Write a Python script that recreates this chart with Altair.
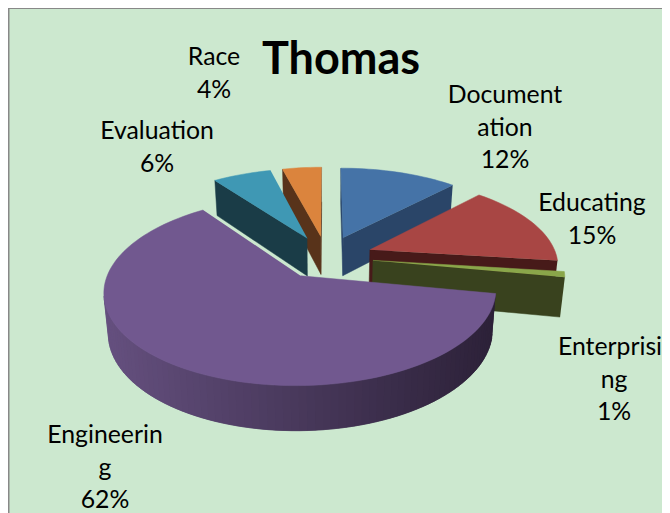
import math
import altair as alt
import pandas as pd

# ---- chart values ----
categories = ["Documentation", "Educating", "Enterprising", "Engineering", "Evaluation", "Race"]
values = [12, 15, 1, 62, 6, 4]
title_text = "Thomas"
label_lines = [
    ["Document", "ation", "12%"],
    ["Educating", "15%"],
    ["Enterprisi", "ng", "1%"],
    ["Engineerin", "g", "62%"],
    ["Evaluation", "6%"],
    ["Race", "4%"],
]

# ---- styling ----
top_colors = ["#4573a7", "#a84644", "#8aa64a", "#71588f", "#3f98b4", "#db843d"]
side_colors = ["#2a4568", "#471a19", "#39421e", "#4a3760", "#1a3c47", "#58331a"]
paint_order = [5, 4, 0, 1, 2, 3]
label_x = [505, 592, 614, 105, 157, 214]
label_y = [96, 204, 348, 436, 132, 58]
LINE = 32.7
FONT = "Lato"
RIGHT_EDGE = 662

# ---- 3-D pie projection ----
CX, CY, R, Q, K, EXPLODE = 326.5, 257.0, 187.0, 0.46, 0.157, 0.25


def project(X, Y, down=False):
    s = 1 / (1 + K * Y)
    x = CX + R * X * s
    y = CY - Q * R * Y * s
    if down:
        x = CX + (x - CX) * 0.98
        y += 12.5 + 26.4 * s
    return x, y


def area(pts):
    return sum(pts[i][0] * pts[(i + 1) % len(pts)][1] - pts[(i + 1) % len(pts)][0] * pts[i][1]
               for i in range(len(pts))) / 2


def lerp_hex(a, b, t):
    ca = [int(a[i:i + 2], 16) for i in (1, 3, 5)]
    cb = [int(b[i:i + 2], 16) for i in (1, 3, 5)]
    return "#" + "".join(f"{round(u + (v - u) * t):02x}" for u, v in zip(ca, cb))


rows = []
poly_id = [0]


def add(pts, color):
    pid = poly_id[0]
    poly_id[0] += 1
    for i, (x, y) in enumerate(pts):
        rows.append({"poly": f"p{pid:04d}", "i": i, "x": x, "y": y, "color": color})


total = sum(values)
starts, acc = [], 0
for v in values:
    starts.append(acc)
    acc += v

for idx in paint_order:
    a0 = starts[idx] / total * 2 * math.pi
    a1 = (starts[idx] + values[idx]) / total * 2 * math.pi
    mid = (a0 + a1) / 2
    ox, oy = EXPLODE * math.sin(mid), EXPLODE * math.cos(mid)
    n = max(2, int(math.degrees(a1 - a0) / 2))
    angs = [a0 + (a1 - a0) * j / n for j in range(n + 1)]
    rim = [(ox + math.sin(a), oy + math.cos(a)) for a in angs]
    apex = (ox, oy)
    side = side_colors[idx]
    # radial faces
    for p, q_ in ((apex, rim[0]), (rim[-1], apex)):
        quad = [project(*p), project(*q_), project(*q_, True), project(*p, True)]
        if area(quad) < 0:
            add(quad, side)
    # outer wall: neighbouring strips overlap so that no seam shows
    for j in range(n):
        p, q_ = rim[j], rim[min(j + 2, n)]
        quad = [project(*p), project(*q_), project(*q_, True), project(*p, True)]
        if area(quad) < 0:
            color = side
            if idx == 3:
                t = (quad[0][0] - 104) / (497 - 104)
                color = lerp_hex("#65507f", "#2c2138", min(1, max(0, t)))
            add(quad, color)
    # top surface
    add([project(*apex)] + [project(*p) for p in rim], top_colors[idx])

df = pd.DataFrame(rows)

text_rows = []
for lines, lx, ly in zip(label_lines, label_x, label_y):
    for k, line in enumerate(lines):
        # the longest right-hand line is kept inside the drawing area
        x = lx - 4 if line == "Enterprisi" else lx
        text_rows.append({"t": line, "x": x, "y": ly + k * LINE})
labels_df = pd.DataFrame(text_rows)

xs = alt.Scale(domain=[8, RIGHT_EDGE], nice=False, zero=False)
ys = alt.Scale(domain=[513, 8], nice=False, zero=False)
X = alt.X("x:Q", scale=xs, axis=None)
Y = alt.Y("y:Q", scale=ys, axis=None)

pie = alt.Chart(df).mark_line(filled=True, strokeWidth=0.5, strokeJoin="round").encode(
    x=X, y=Y,
    fill=alt.Fill("color:N", scale=None),
    stroke=alt.Stroke("color:N", scale=None),
    detail="poly:N",
    order="i:Q",
)
labels = alt.Chart(labels_df).mark_text(font=FONT, fontSize=24.8, color="#000000", baseline="middle", align="center").encode(
    x=X, y=Y, text="t:N"
)
title = alt.Chart(pd.DataFrame({"t": [title_text], "x": [341], "y": [60]})).mark_text(
    font=FONT, fontSize=45, fontWeight="bold", color="#000000", baseline="middle", align="center"
).encode(x=X, y=Y, text="t:N")
border_left = alt.Chart(pd.DataFrame({"x": [8]})).mark_rule(color="#888888", strokeWidth=3).encode(x=X)
border_top = alt.Chart(pd.DataFrame({"y": [8]})).mark_rule(color="#888888", strokeWidth=2).encode(y=Y)

chart = alt.layer(pie, labels, title, border_left, border_top).properties(
    width=654, height=505, background="#cce8cf", padding=0,
    autosize=alt.AutoSizeParams(type="none"),
).configure_view(stroke=None)

chart.save("out.html", embed_options={"renderer": "svg", "actions": False})
